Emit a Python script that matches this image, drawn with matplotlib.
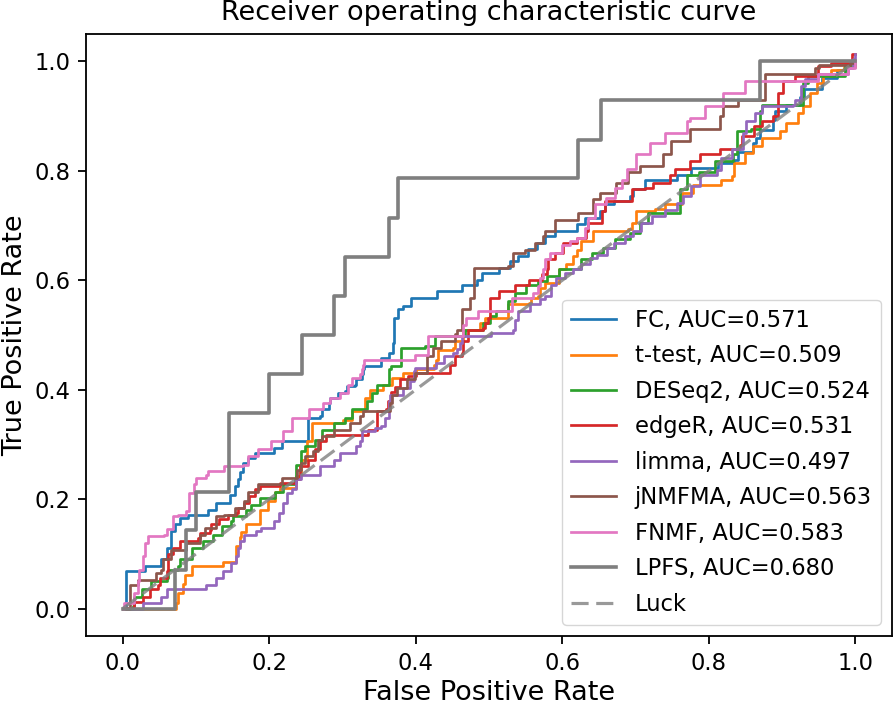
import matplotlib
matplotlib.use("Agg")
import matplotlib.pyplot as plt

# ---------------- data ----------------
methods = ["FC", "t-test", "DESeq2", "edgeR", "limma", "jNMFMA", "FNMF", "LPFS"]
aucs = [0.571, 0.509, 0.524, 0.531, 0.497, 0.563, 0.583, 0.680]
colors = ["#1f77b4", "#ff7f0e", "#2ca02c", "#d62728", "#9467bd", "#8c564b", "#e377c2", "#7f7f7f"]

fc_fpr = [0, 0.005, 0.030, 0.053, 0.060, 0.066, 0.071, 0.078, 0.089, 0.117, 0.128, 0.146, 0.153, 0.157,
          0.160, 0.164, 0.171, 0.180, 0.206, 0.217, 0.253, 0.269, 0.272, 0.281, 0.283, 0.294, 0.303, 0.306,
          0.317, 0.319, 0.326, 0.328, 0.330, 0.353, 0.364, 0.369, 0.371, 0.376, 0.383, 0.394, 0.429, 0.463,
          0.483, 0.490, 0.513, 0.529, 0.540, 0.553, 0.565, 0.576, 0.590, 0.620, 0.631, 0.651, 0.658, 0.670,
          0.692, 0.697, 0.713, 0.756, 0.776, 0.812, 0.835, 0.840, 0.860, 0.865, 0.870, 0.888, 0.890, 0.906,
          0.925, 0.930, 0.955, 0.975, 0.990, 1.0]
fc_tpr = [0, 0.068, 0.077, 0.090, 0.110, 0.141, 0.154, 0.166, 0.172, 0.181, 0.193, 0.208, 0.224, 0.236,
          0.250, 0.266, 0.275, 0.285, 0.294, 0.306, 0.349, 0.352, 0.364, 0.376, 0.385, 0.394, 0.397, 0.406,
          0.409, 0.419, 0.428, 0.437, 0.443, 0.458, 0.467, 0.486, 0.531, 0.547, 0.553, 0.568, 0.580, 0.592,
          0.601, 0.614, 0.623, 0.635, 0.645, 0.657, 0.669, 0.681, 0.690, 0.702, 0.714, 0.726, 0.739, 0.745,
          0.754, 0.766, 0.784, 0.793, 0.806, 0.815, 0.820, 0.835, 0.850, 0.860, 0.875, 0.893, 0.910, 0.920,
          0.935, 0.950, 0.970, 0.985, 0.990, 1.0]

tt_fpr = [0, 0.073, 0.075, 0.082, 0.085, 0.094, 0.137, 0.155, 0.160, 0.162, 0.169, 0.1875, 0.199, 0.208,
          0.215, 0.237, 0.244, 0.251, 0.258, 0.301, 0.313, 0.331, 0.338, 0.356, 0.367, 0.383, 0.400, 0.425,
          0.428, 0.431, 0.451, 0.454, 0.465, 0.488, 0.494, 0.526, 0.554, 0.558, 0.567, 0.570, 0.576, 0.595,
          0.605, 0.615, 0.620, 0.626, 0.642, 0.690, 0.695, 0.701, 0.726, 0.740, 0.763, 0.779, 0.817, 0.831,
          0.835, 0.849, 0.860, 0.872, 0.897, 0.906, 0.922, 0.929, 0.938, 0.947, 0.956, 0.967, 0.985, 1.0]
tt_tpr = [0, 0.010, 0.029, 0.045, 0.062, 0.077, 0.085, 0.114, 0.130, 0.140, 0.154, 0.181, 0.196, 0.214,
          0.220, 0.242, 0.272, 0.306, 0.339, 0.345, 0.361, 0.385, 0.400, 0.409, 0.422, 0.431, 0.437, 0.445,
          0.455, 0.473, 0.476, 0.489, 0.510, 0.522, 0.531, 0.556, 0.559, 0.568, 0.571, 0.585, 0.595, 0.620,
          0.630, 0.644, 0.655, 0.671, 0.690, 0.693, 0.705, 0.726, 0.730, 0.740, 0.760, 0.775, 0.784, 0.790,
          0.815, 0.833, 0.845, 0.860, 0.873, 0.888, 0.906, 0.918, 0.943, 0.961, 0.973, 0.985, 0.990, 1.0]

de_fpr = [0, 0.014, 0.016, 0.026, 0.039, 0.060, 0.062, 0.076, 0.078, 0.094, 0.110, 0.123, 0.135, 0.148,
          0.151, 0.169, 0.175, 0.1875, 0.208, 0.219, 0.235, 0.237, 0.244, 0.249, 0.263, 0.272, 0.288, 0.303,
          0.313, 0.333, 0.340, 0.347, 0.363, 0.366, 0.380, 0.413, 0.426, 0.467, 0.492, 0.501, 0.510, 0.526,
          0.535, 0.551, 0.567, 0.579, 0.595, 0.626, 0.640, 0.656, 0.672, 0.692, 0.706, 0.717, 0.760, 0.770,
          0.786, 0.808, 0.833, 0.838, 0.858, 0.870, 0.872, 0.929, 0.936, 0.986, 1.0]
de_tpr = [0, 0.004, 0.022, 0.035, 0.050, 0.056, 0.071, 0.077, 0.090, 0.111, 0.123, 0.135, 0.151, 0.160,
          0.169, 0.181, 0.190, 0.202, 0.214, 0.227, 0.236, 0.263, 0.288, 0.297, 0.309, 0.327, 0.339, 0.349,
          0.364, 0.379, 0.394, 0.409, 0.437, 0.443, 0.477, 0.480, 0.498, 0.510, 0.522, 0.534, 0.544, 0.562,
          0.577, 0.592, 0.598, 0.607, 0.620, 0.638, 0.650, 0.659, 0.675, 0.687, 0.705, 0.723, 0.766, 0.793,
          0.797, 0.818, 0.830, 0.873, 0.876, 0.909, 0.921, 0.961, 0.973, 0.994, 1.0]

er_fpr = [0, 0.003, 0.016, 0.028, 0.037, 0.048, 0.051, 0.060, 0.062, 0.069, 0.078, 0.103, 0.105, 0.119,
          0.121, 0.132, 0.144, 0.155, 0.157, 0.166, 0.173, 0.180, 0.187, 0.215, 0.237, 0.242, 0.253, 0.263,
          0.269, 0.278, 0.335, 0.347, 0.360, 0.362, 0.366, 0.372, 0.378, 0.390, 0.400, 0.447, 0.454, 0.463,
          0.465, 0.472, 0.492, 0.494, 0.499, 0.501, 0.513, 0.535, 0.554, 0.572, 0.579, 0.581, 0.590, 0.601,
          0.620, 0.633, 0.635, 0.654, 0.658, 0.695, 0.713, 0.724, 0.747, 0.754, 0.774, 0.788, 0.815, 0.842,
          0.845, 0.861, 0.872, 0.888, 0.895, 0.901, 0.917, 0.949, 0.967, 0.995, 1.0]
er_tpr = [0, 0.001, 0.013, 0.022, 0.035, 0.044, 0.056, 0.068, 0.099, 0.111, 0.123, 0.129, 0.138, 0.144,
          0.154, 0.163, 0.172, 0.175, 0.184, 0.193, 0.205, 0.218, 0.224, 0.230, 0.236, 0.260, 0.272, 0.291,
          0.306, 0.318, 0.327, 0.361, 0.364, 0.380, 0.395, 0.405, 0.419, 0.425, 0.430, 0.446, 0.461, 0.467,
          0.489, 0.510, 0.513, 0.522, 0.531, 0.568, 0.580, 0.592, 0.601, 0.611, 0.620, 0.638, 0.650, 0.669,
          0.678, 0.690, 0.705, 0.726, 0.745, 0.766, 0.769, 0.778, 0.793, 0.803, 0.818, 0.830, 0.839, 0.848,
          0.863, 0.882, 0.891, 0.900, 0.943, 0.964, 0.973, 0.991, 0.997, 1.013, 1.013]

li_fpr = [0, 0.028, 0.053, 0.060, 0.114, 0.128, 0.137, 0.148, 0.155, 0.157, 0.160, 0.166, 0.182, 0.189,
          0.207, 0.213, 0.219, 0.224, 0.231, 0.237, 0.244, 0.269, 0.288, 0.297, 0.319, 0.324, 0.326, 0.344,
          0.353, 0.358, 0.363, 0.365, 0.383, 0.392, 0.397, 0.399, 0.428, 0.438, 0.451, 0.456, 0.460, 0.463,
          0.503, 0.533, 0.535, 0.540, 0.556, 0.569, 0.576, 0.585, 0.592, 0.604, 0.615, 0.626, 0.638, 0.647,
          0.661, 0.670, 0.685, 0.697, 0.708, 0.722, 0.740, 0.756, 0.765, 0.776, 0.788, 0.811, 0.817, 0.831,
          0.847, 0.851, 0.863, 0.872, 0.915, 0.917, 0.926, 0.931, 0.949, 0.990, 0.997, 1.0]
li_tpr = [0, 0.010, 0.022, 0.035, 0.044, 0.056, 0.068, 0.083, 0.096, 0.111, 0.123, 0.135, 0.141, 0.147,
          0.160, 0.175, 0.193, 0.211, 0.218, 0.236, 0.245, 0.260, 0.272, 0.285, 0.297, 0.306, 0.324, 0.330,
          0.333, 0.349, 0.379, 0.391, 0.403, 0.416, 0.434, 0.440, 0.449, 0.461, 0.467, 0.474, 0.486, 0.498,
          0.504, 0.510, 0.528, 0.544, 0.556, 0.565, 0.571, 0.592, 0.605, 0.614, 0.620, 0.629, 0.641, 0.647,
          0.659, 0.668, 0.681, 0.690, 0.705, 0.717, 0.729, 0.742, 0.754, 0.772, 0.793, 0.802, 0.824, 0.839,
          0.870, 0.891, 0.906, 0.918, 0.921, 0.930, 0.955, 0.967, 0.976, 0.988, 1.004, 1.013]

jn_fpr = [0, 0.010, 0.021, 0.046, 0.053, 0.055, 0.066, 0.087, 0.105, 0.112, 0.128, 0.139, 0.153, 0.166,
          0.171, 0.185, 0.217, 0.238, 0.244, 0.249, 0.260, 0.267, 0.272, 0.288, 0.310, 0.324, 0.328, 0.365,
          0.367, 0.374, 0.388, 0.399, 0.415, 0.424, 0.435, 0.454, 0.456, 0.463, 0.474, 0.479, 0.526, 0.533,
          0.549, 0.563, 0.574, 0.576, 0.590, 0.622, 0.642, 0.651, 0.674, 0.690, 0.706, 0.738, 0.749, 0.774,
          0.815, 0.820, 0.840, 0.877, 0.945, 0.951, 0.992, 1.0]
jn_tpr = [0, 0.044, 0.053, 0.065, 0.071, 0.090, 0.108, 0.120, 0.135, 0.147, 0.169, 0.172, 0.184, 0.196,
          0.214, 0.227, 0.239, 0.254, 0.266, 0.278, 0.288, 0.309, 0.315, 0.327, 0.339, 0.352, 0.361, 0.376,
          0.391, 0.403, 0.419, 0.431, 0.461, 0.476, 0.489, 0.501, 0.510, 0.547, 0.568, 0.623, 0.626, 0.650,
          0.656, 0.669, 0.681, 0.690, 0.711, 0.723, 0.748, 0.760, 0.778, 0.797, 0.809, 0.830, 0.854, 0.876,
          0.900, 0.918, 0.930, 0.976, 0.988, 0.994, 0.997, 1.0]

fn_fpr = [0, 0.002, 0.016, 0.021, 0.023, 0.028, 0.030, 0.035, 0.057, 0.060, 0.069, 0.076, 0.087, 0.091,
          0.098, 0.100, 0.114, 0.116, 0.139, 0.164, 0.171, 0.185, 0.203, 0.219, 0.231, 0.255, 0.274, 0.283,
          0.297, 0.308, 0.313, 0.324, 0.326, 0.328, 0.330, 0.399, 0.417, 0.465, 0.469, 0.485, 0.531, 0.560,
          0.567, 0.569, 0.574, 0.576, 0.583, 0.599, 0.610, 0.620, 0.631, 0.635, 0.645, 0.660, 0.672, 0.681,
          0.688, 0.701, 0.720, 0.740, 0.770, 0.774, 0.795, 0.820, 0.849, 0.949, 0.990, 1.0]
fn_tpr = [0, 0.010, 0.029, 0.050, 0.071, 0.096, 0.120, 0.132, 0.135, 0.145, 0.169, 0.172, 0.178, 0.212,
          0.227, 0.239, 0.245, 0.251, 0.260, 0.263, 0.279, 0.291, 0.306, 0.324, 0.349, 0.364, 0.376, 0.385,
          0.394, 0.409, 0.422, 0.428, 0.437, 0.446, 0.455, 0.464, 0.498, 0.519, 0.531, 0.544, 0.568, 0.577,
          0.589, 0.604, 0.620, 0.638, 0.650, 0.665, 0.672, 0.678, 0.696, 0.714, 0.739, 0.751, 0.769, 0.784,
          0.803, 0.830, 0.851, 0.870, 0.891, 0.897, 0.918, 0.943, 0.964, 0.976, 0.988, 1.0]

lp_fpr = [0, 0.071, 0.086, 0.100, 0.145, 0.200, 0.245, 0.289, 0.304, 0.363, 0.376, 0.622, 0.653, 0.870, 1.0]
lp_tpr = [0, 0.071, 0.143, 0.214, 0.357, 0.429, 0.500, 0.571, 0.643, 0.714, 0.786, 0.857, 0.929, 1.0, 1.0]

all_fpr = [fc_fpr, tt_fpr, de_fpr, er_fpr, li_fpr, jn_fpr, fn_fpr, lp_fpr]
all_tpr = [fc_tpr, tt_tpr, de_tpr, er_tpr, li_tpr, jn_tpr, fn_tpr, lp_tpr]

# ---------------- style ----------------
S = 1.63
plt.rcParams.update({
    "font.family": ["DejaVu Sans"],
    "font.size": 10 * S,
    "axes.linewidth": 0.8 * S,
    "xtick.major.size": 3.5 * S,
    "ytick.major.size": 3.5 * S,
    "xtick.major.width": 0.8 * S,
    "ytick.major.width": 0.8 * S,
    "xtick.major.pad": 3.5 * S,
    "ytick.major.pad": 3.5 * S,
    "xtick.labelsize": 10 * S,
    "ytick.labelsize": 10 * S,
})

fig = plt.figure(figsize=(8.96, 7.10), dpi=100)
ax = fig.add_axes([86 / 896, 1 - 636 / 710, (892 - 86) / 896, (636 - 34) / 710])

for name, auc, col, fx, ty in zip(methods, aucs, colors, all_fpr, all_tpr):
    lw = 1.6 * S if name == "LPFS" else 1.2 * S
    ax.plot(fx, ty, drawstyle="steps-post", color=col, lw=lw,
            label="%s, AUC=%.3f" % (name, auc))

ax.plot([0, 1], [0, 1], linestyle=(0, (5.4, 2.4)), lw=1.4 * S, color="grey", alpha=0.8, label="Luck")

ax.set_xlim(-0.05, 1.05)
ax.set_ylim(-0.05, 1.05)
ax.set_xticks([0.0, 0.2, 0.4, 0.6, 0.8, 1.0])
ax.set_yticks([0.0, 0.2, 0.4, 0.6, 0.8, 1.0])
ax.set_xlabel("False Positive Rate", fontsize=12 * S)
ax.set_ylabel("True Positive Rate", fontsize=12 * S)
ax.set_title("Receiver operating characteristic curve", fontsize=12 * S, pad=6 * S)
ax.legend(loc="lower right", fontsize=10 * S, labelspacing=0.55)

fig.savefig("out.png", dpi=100)
